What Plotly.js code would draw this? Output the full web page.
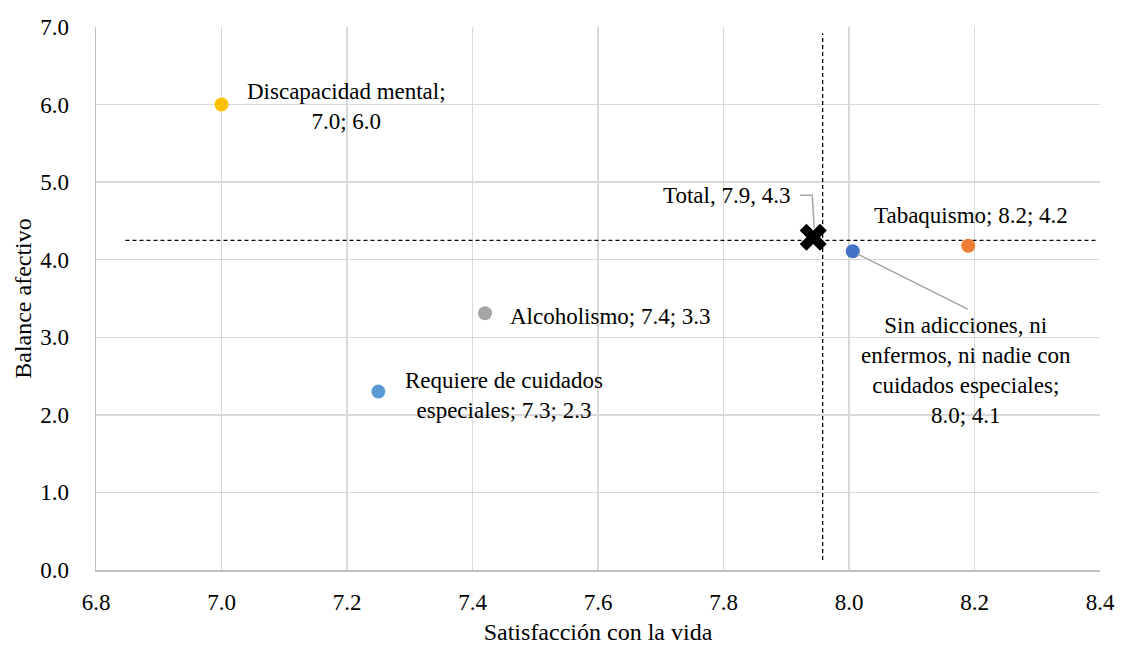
<!DOCTYPE html>
<html>
<head>
<meta charset="utf-8">
<script src="https://cdn.plot.ly/plotly-3.0.1.min.js"></script>
<style>
html,body{margin:0;padding:0;background:#fff;}
#chart{width:1125px;height:645px;}
#chart text{font-family:'Liberation Serif','Times New Roman',serif !important;}
</style>
</head>
<body>
<div id="chart"></div>
<script>
// Data
const groupNames = ["Discapacidad mental", "Alcoholismo", "Requiere de cuidados especiales", "Sin adicciones, ni enfermos, ni nadie con cuidados especiales", "Tabaquismo"];
const satisfaccion = [7.00, 7.42, 7.25, 8.006, 8.19];
const balance = [6.00, 3.31, 2.30, 4.11, 4.18];
const groupLabels = ["Discapacidad mental;<br>7.0; 6.0", "Alcoholismo; 7.4; 3.3", "Requiere de cuidados<br>especiales; 7.3; 2.3", "Sin adicciones, ni<br>enfermos, ni nadie con<br>cuidados especiales;<br>8.0; 4.1", "Tabaquismo; 8.2; 4.2"];
const groupColors = ["#FFC000", "#A5A5A5", "#5B9BD5", "#4472C4", "#ED7D31"];
const totalX = [7.943];
const totalY = [4.29];
const totalLabel = "Total, 7.9, 4.3";
const refLineX = 7.958;   // vertical dashed reference
const refLineY = 4.25;    // horizontal dashed reference
const vLineYRange = [0.13, 6.92];
const hLineXRange = [6.847, 8.397];
const xTicks = [6.8, 7.0, 7.2, 7.4, 7.6, 7.8, 8.0, 8.2, 8.4];
const yTicks = [0, 1, 2, 3, 4, 5, 6, 7];

const FAM = "Liberation Serif";

const traces = [
  {x: [refLineX, refLineX], y: vLineYRange, mode: "lines", line: {color: "#000", width: 1.3, dash: "4px,3px"}, hoverinfo: "skip", showlegend: false},
  {x: hLineXRange, y: [refLineY, refLineY], mode: "lines", line: {color: "#000", width: 1.3, dash: "4px,3px"}, hoverinfo: "skip", showlegend: false},
  {x: satisfaccion, y: balance, text: groupNames, mode: "markers", marker: {color: groupColors, size: 14}, showlegend: false},
  {x: totalX, y: totalY, mode: "markers", marker: {color: "#000", size: 24, symbol: "x", line: {width: 0}}, showlegend: false}
];

// label offsets (pixels) relative to the data points
const labelOffsets = [
  {dx: 125, dy: -2, xa: "center"},
  {dx: 23, dy: -3, xa: "left"},
  {dx: 126, dy: -4, xa: "center"},
  {dx: 113, dy: -119, xa: "center"},
  {dx: 3, dy: 30, xa: "center"}
];

const annotations = groupLabels.map((t, i) => ({
  x: satisfaccion[i], y: balance[i], xref: "x", yref: "y",
  text: t, showarrow: false, xanchor: labelOffsets[i].xa, yanchor: "middle",
  xshift: labelOffsets[i].dx, yshift: labelOffsets[i].dy,
  font: {family: FAM, size: 23, color: "#000"}, align: "center"
}));
annotations.push({
  x: totalX[0], y: totalY[0], xref: "x", yref: "y", text: totalLabel, showarrow: false,
  xanchor: "right", yanchor: "middle", xshift: -21, yshift: 42,
  font: {family: FAM, size: 23, color: "#000"}
});

const shapes = [
  {type: "path", xref: "x", yref: "y", xsizemode: "pixel", ysizemode: "pixel",
   xanchor: totalX[0], yanchor: totalY[0], path: "M1,9 L-1,42 L-13,42",
   line: {color: "#A5A5A5", width: 1.5}},
  {type: "line", xref: "x", yref: "y", xsizemode: "pixel", ysizemode: "pixel",
   xanchor: satisfaccion[3], yanchor: balance[3], x0: 5, y0: -3, x1: 115, y1: -58,
   line: {color: "#A5A5A5", width: 1.5}}
];

const layout = {
  width: 1125, height: 645,
  margin: {l: 96, r: 25, t: 27, b: 75},
  paper_bgcolor: "#fff", plot_bgcolor: "#fff",
  font: {family: FAM, size: 23, color: "#000"},
  xaxis: {range: [6.8, 8.4], tickvals: xTicks, ticktext: xTicks.map(v => v.toFixed(1)),
    showgrid: true, gridcolor: "#D9D9D9", gridwidth: 1.5, zeroline: false,
    showline: true, linecolor: "#BFBFBF", linewidth: 1.5, ticks: "", ticklen: 0,
    ticklabelstandoff: 11,
    tickfont: {family: FAM, size: 23, color: "#000"},
    title: {text: "Satisfacción con la vida", font: {family: FAM, size: 24, color: "#000"}, standoff: 10}},
  yaxis: {range: [0, 7], tickvals: yTicks, ticktext: yTicks.map(v => v.toFixed(1)),
    showgrid: true, gridcolor: "#D9D9D9", gridwidth: 1.5, zeroline: false,
    showline: true, linecolor: "#BFBFBF", linewidth: 1.5, ticks: "",
    ticklabelstandoff: 21,
    tickfont: {family: FAM, size: 23, color: "#000"},
    title: {text: "Balance afectivo", font: {family: FAM, size: 24, color: "#000"}, standoff: 2}},
  annotations: annotations,
  shapes: shapes,
  showlegend: false
};

Plotly.newPlot("chart", traces, layout, {displayModeBar: false, staticPlot: true});
</script>
</body>
</html>
